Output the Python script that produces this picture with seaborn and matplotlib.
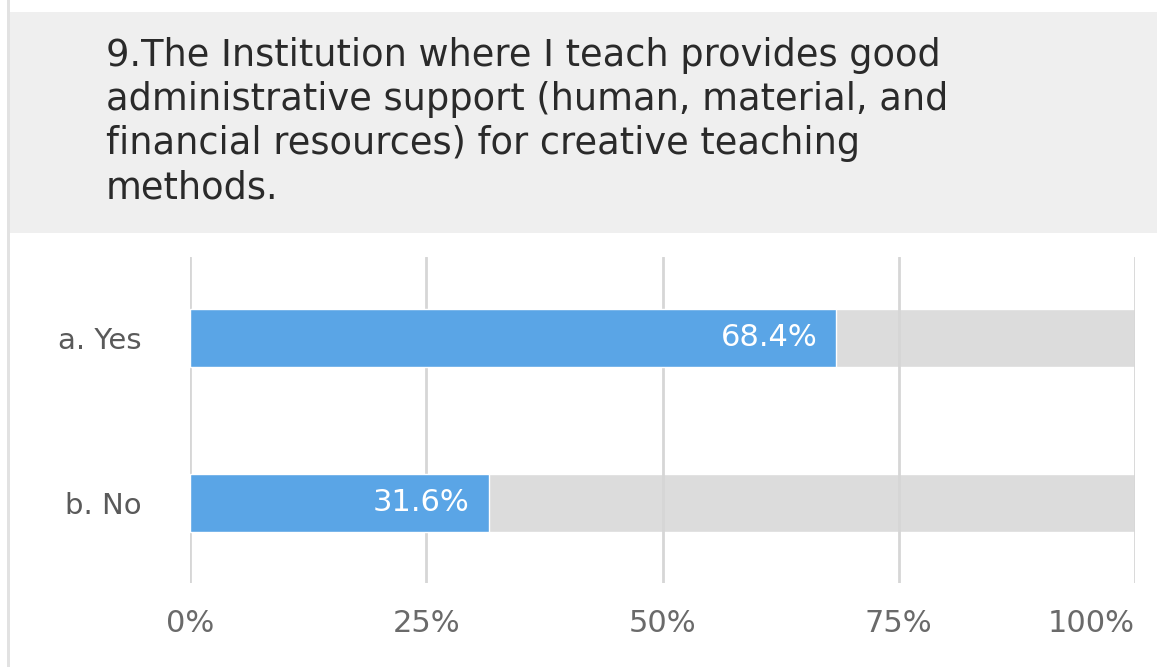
import matplotlib
matplotlib.use("Agg")
import matplotlib.pyplot as plt
from matplotlib.patches import Rectangle
import seaborn as sns
import pandas as pd

title = ("9.The Institution where I teach provides good\n"
         "administrative support (human, material, and\n"
         "financial resources) for creative teaching\n"
         "methods.")
categories = ["a. Yes", "b. No"]
percent = [68.4, 31.6]
full_scale = [100, 100]
tick_values = [0, 25, 50, 75, 100]
tick_labels = ["0%", "25%", "50%", "75%", "100%"]

df = pd.DataFrame({"option": categories, "pct": percent, "full": full_scale})

sns.set_theme(style="white")
plt.rcParams["font.family"] = ["DejaVu Sans"]

W, H = 1157, 667
fig = plt.figure(figsize=(W / 100, H / 100), dpi=100)
fig.patch.set_facecolor("white")

# header band and thin left rule
fig.patches.append(Rectangle((10 / W, 1 - 233 / H), 1 - 10 / W, (233 - 12) / H,
                             transform=fig.transFigure, facecolor="#efefef",
                             edgecolor="none", zorder=0))
fig.patches.append(Rectangle((7 / W, 0), 3 / W, 1, transform=fig.transFigure,
                             facecolor="#e2e2e2", edgecolor="none", zorder=0))
fig.text(106 / W, 1 - 37 / H, title, ha="left", va="top", fontsize=26.5,
         color="#2a2a2a", linespacing=1.25)

ax = fig.add_axes([190 / W, 1 - 583 / H, (1135 - 190) / W, (583 - 257) / H])
ax.set_facecolor("none")

bar_h = 0.35
sns.barplot(data=df, y="option", x="full", color="#dcdcdc", width=bar_h,
            orient="h", ax=ax, zorder=1, saturation=1)
sns.barplot(data=df, y="option", x="pct", color="#5aa5e6", width=bar_h,
            orient="h", ax=ax, zorder=3, saturation=1)

for i, v in enumerate(percent):
    ax.text(v - 2.0, i, f"{v:.1f}%", ha="right", va="center", fontsize=22,
            color="white", zorder=4)

for t in tick_values:
    ax.axvline(t, color="#d6d6d6", lw=2, zorder=2)

ax.set_xlim(0, 100)
ax.set_ylim(1.485, -0.49)
ax.set_xticks(tick_values)
ax.set_xticklabels(tick_labels, fontsize=22, color="#6a6a6a")
ax.get_xticklabels()[-1].set_horizontalalignment("right")
ax.tick_params(axis="x", length=0, pad=19)
ax.tick_params(axis="y", length=0, pad=35, labelsize=21, labelcolor="#5a5a5a")
ax.set_xlabel("")
ax.set_ylabel("")
for s in ax.spines.values():
    s.set_visible(False)

fig.savefig("out.png", dpi=100)
